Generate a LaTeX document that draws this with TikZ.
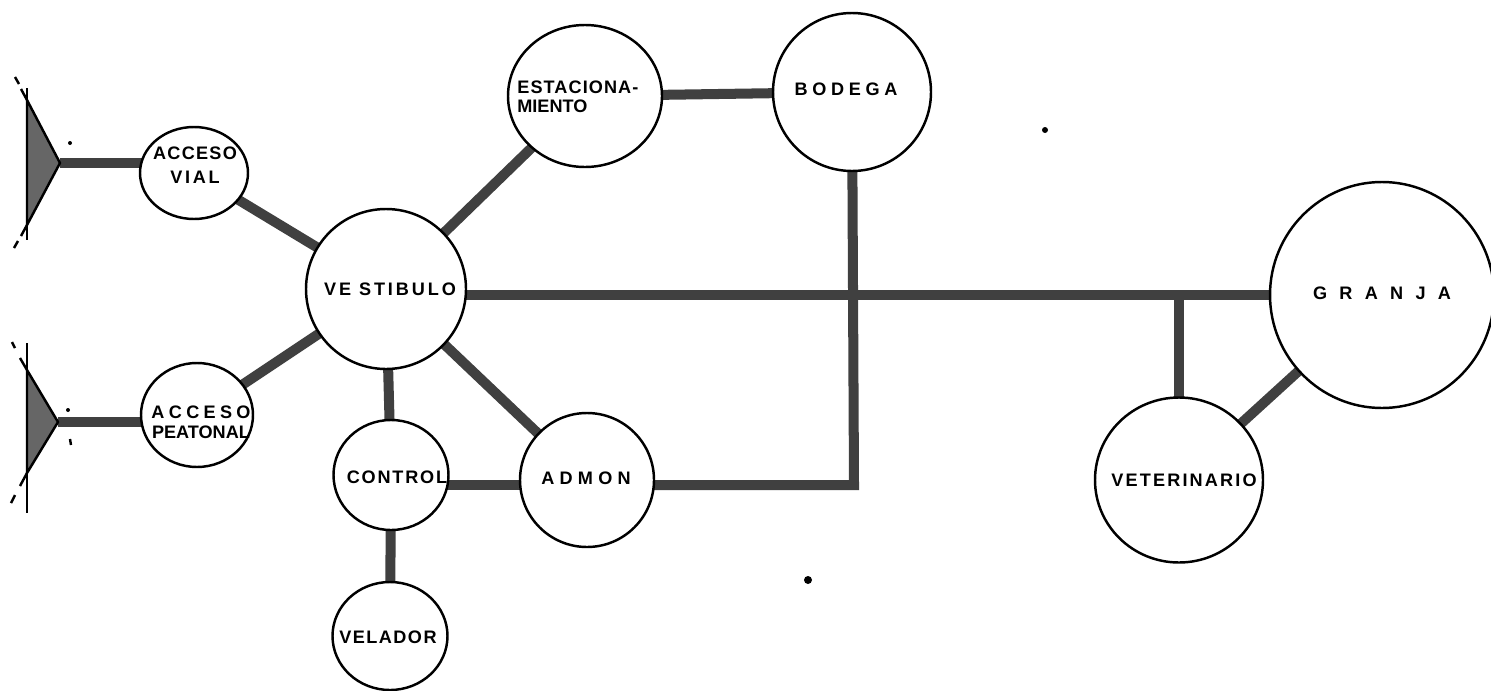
\documentclass[tikz,border=0pt]{standalone}
\usepackage{fontspec}
\setmainfont{Liberation Sans}
\usetikzlibrary{shapes.geometric,backgrounds}
\newcommand\esp[1]{\addfontfeature{LetterSpace=#1}}

\begin{document}
\begin{tikzpicture}[x=0.02cm, y=-0.02cm,
  sala/.style 2 args={draw, ellipse, line width=1.4pt, fill=white, inner sep=0pt,
    minimum width=#1*0.02cm, minimum height=#2*0.02cm},
  rotulo/.style={font=\fontsize{10.3}{11}\selectfont\bfseries, inner sep=0pt, align=center},
  enlace/.style={line width=5.7pt, black!75, line join=miter},
  acceso/.style={draw, line width=1.4pt, fill=black!60, line join=round},
  trazo/.style={line width=1.4pt}]
\useasboundingbox (0,0) rectangle (1491,690);
% salas
\node[sala={108}{92}] (vial) at (194,173) {};
\node[sala={112}{104}] (peat) at (197,415) {};
\node[sala={160}{160}] (vest) at (386,289) {};
\node[sala={154}{142}] (estac) at (585,96) {};
\node[sala={158}{158}] (bodega) at (852,92) {};
\node[sala={115}{110}] (control) at (391,475) {};
\node[sala={134}{134}] (admon) at (587,480) {};
\node[sala={115}{108}] (velador) at (390,636) {};
\node[sala={224}{226}] (granja) at (1382,295) {};
\node[sala={168}{165}] (vet) at (1179,480) {};
% rotulos
\node[rotulo] (tvial) at (195,165) {\esp{7}ACCESO\\[2.6pt]\esp{15}VIAL};
\node[rotulo] (tpeat) at (201,422) {\esp{24}ACCESO\\[0.3pt]\esp{0}PEATONAL};
\node[rotulo] (tvest) at (390,289) {\esp{16}VE STIBULO};
\node[rotulo, anchor=west, align=left] (testac) at (517,97) {\esp{6}ESTACIONA-\\MIENTO};
\node[rotulo] (tbodega) at (846,89) {\esp{26}BODEGA};
\node[rotulo] (tcontrol) at (397,477) {\esp{10}CONTROL};
\node[rotulo] (tadmon) at (586,478) {\esp{29}ADMON};
\node[rotulo] (tvelador) at (388,637) {\esp{8}VELADOR};
\node[rotulo] (tgranja) at (1382,293) {\esp{68}GRANJA};
\node[rotulo] (tvet) at (1184,480) {\esp{12}VETERINARIO};
% entradas
\coordinate (entrada1) at (60,163);
\coordinate (entrada2) at (58,422);
\coordinate (esquina) at (854,485);
\filldraw[acceso] (27,100) -- (entrada1) -- (27,225) -- cycle;
\filldraw[acceso] (27,370) -- (entrada2) -- (27,473) -- cycle;
\draw[trazo] (27,88) -- (27,240);
\draw[trazo] (27,343) -- (27,513);
\draw[trazo] (27,100) -- (21,89);
\draw[trazo] (19,84) -- (15,77);
\draw[trazo] (27,225) -- (21,236);
\draw[trazo] (18,241) -- (14,248);
\draw[trazo] (27,370) -- (20,358);
\draw[trazo] (15,348) -- (12,342);
\draw[trazo] (27,473) -- (20,486);
\draw[trazo] (15,495) -- (11,503);
\fill (70,143) circle [radius=2];
\fill (68,410) circle [radius=2];
\draw[trazo] (70,439) -- (71,445);
\fill (808,580) circle [radius=4];
\fill (1045,130) circle [radius=3];
% enlaces
\begin{pgfonlayer}{background}
\draw[enlace] (entrada1) -- (entrada1 -| vial.center);
\draw[enlace] (entrada2) -- (entrada2 -| peat.center);
\draw[enlace] (vial.center) -- (vest.center);
\draw[enlace] (peat.center) -- (vest.center);
\draw[enlace] (vest.center) -- (estac.center);
\draw[enlace] (estac.center) -- (bodega.center);
\draw[enlace] (vest.center) -- (control.center);
\draw[enlace] (control.center) -- (velador.center);
\draw[enlace] (vest.center) -- (admon.center);
\draw[enlace] (control.center |- esquina) -- (admon.center |- esquina);
\draw[enlace] (bodega.center) -- (esquina) -- (admon.center |- esquina);
\draw[enlace] (vest.center |- granja.center) -- (granja.center);
\draw[enlace] (vet.center |- granja.center) -- (vet.center);
\draw[enlace] (vet.center) -- (granja.center);
\end{pgfonlayer}
\end{tikzpicture}
\end{document}
